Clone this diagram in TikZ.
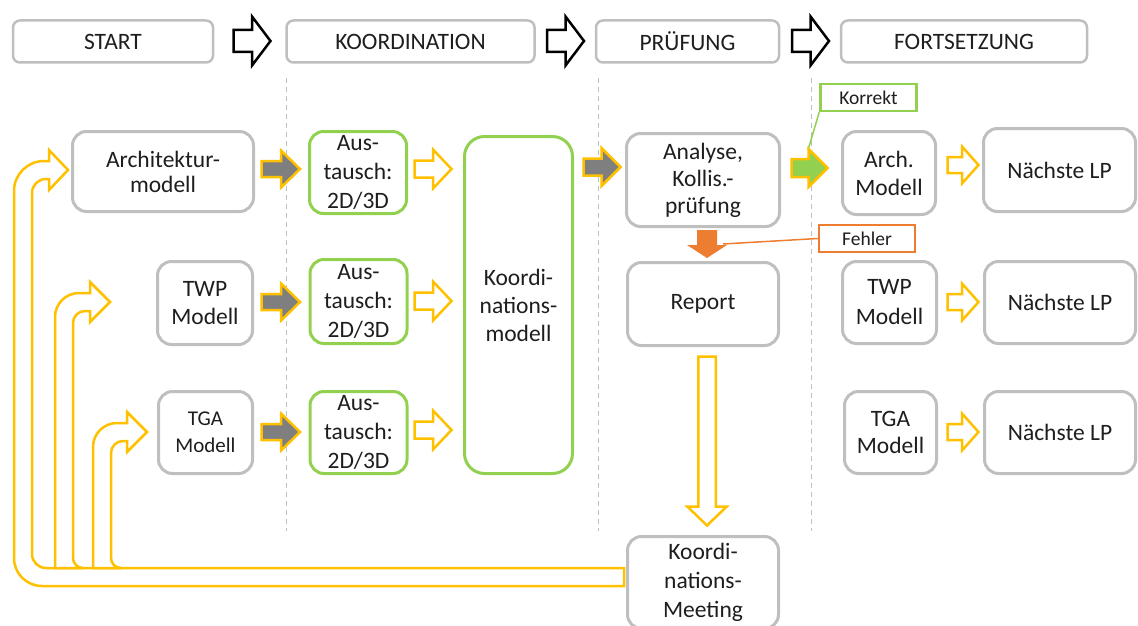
\documentclass[tikz,border=0pt]{standalone}
\usepackage{fontspec}
\setmainfont{Carlito}
\definecolor{boxgray}{HTML}{BFBFBF}
\definecolor{gold}{HTML}{FFC000}
\definecolor{leaf}{HTML}{92D050}
\definecolor{rust}{HTML}{ED7D31}
\definecolor{arrowgray}{HTML}{7F7F7F}
\definecolor{ink}{HTML}{1E1E1E}

\begin{document}
\begin{tikzpicture}[x=1pt,y=-1pt,
  every node/.style={font=\fontsize{23.5}{28}\selectfont, text=ink, inner sep=0pt},
  headbox/.style={draw=boxgray, line width=2.5pt, rounded corners=7pt, fill=white, minimum height=42pt},
  graybox/.style={draw=boxgray, line width=3pt, rounded corners=14pt, fill=white, align=center},
  greenbox/.style={graybox, draw=leaf},
  tagbox/.style={draw=#1, line width=2.5pt, fill=white, font=\fontsize{19.5}{23}\selectfont, minimum width=96pt, minimum height=27pt},
  % block arrow drawn from its tail centre towards +x:
  % {length}{head length}{shaft half width}{head half width}{style}
  pics/barrow/.style n args={5}{code={
    \path[#5] (0,-#3) -- (#1-#2,-#3) -- (#1-#2,-#4) -- (#1,0)
      -- (#1-#2,#4) -- (#1-#2,#3) -- (0,#3) -- cycle;}},
  grayfill/.style={draw=gold, fill=arrowgray, line width=2.5pt, line join=miter},
  hollowfill/.style={draw=gold, fill=white, line width=2.5pt, line join=miter},
  greenfill/.style={draw=gold, fill=leaf, line width=2.5pt, line join=miter},
  stagefill/.style={draw=black, fill=white, line width=2.5pt, line join=miter},
  errfill/.style={fill=rust},
  fb/.style={draw=gold, line width=2.5pt, fill=white},
  sep/.style={draw=boxgray, line width=1pt, dash pattern=on 5pt off 4pt}
]
\useasboundingbox (0,0) rectangle (1138,626);
\clip (0,0) rectangle (1138,626);

% phase separators
\draw[sep] (286,78) -- (286,531);
\draw[sep] (598,78) -- (598,531);
\draw[sep] (811,78) -- (811,531);

% feedback arrows from the coordination meeting back to the models
\draw[fb] (624,568) -- (46,568) arc[start angle=90, end angle=180, radius=14]
  -- (32,193) arc[start angle=180, end angle=270, radius=14]
  -- (49,179) -- (49,190) -- (68,170) -- (49,150) -- (49,161) -- (44,161)
  arc[start angle=270, end angle=180, radius=30]
  -- (14,558) arc[start angle=180, end angle=90, radius=28]
  -- (624,586) -- cycle;
\draw[fb] (55,568) -- (55,317) arc[start angle=180, end angle=270, radius=24]
  -- (90,293) -- (90,282) -- (110,302) -- (90,322) -- (90,311) -- (85,311)
  arc[start angle=270, end angle=180, radius=12]
  -- (73,558) arc[start angle=180, end angle=90, radius=10] -- cycle;
\draw[fb] (93,568) -- (93,447) arc[start angle=180, end angle=270, radius=24]
  -- (127,423) -- (127,412) -- (147,432) -- (127,452) -- (127,441) -- (123,441)
  arc[start angle=270, end angle=180, radius=12]
  -- (111,558) arc[start angle=180, end angle=90, radius=10] -- cycle;

% phase headers
\node[headbox, minimum width=200pt] (hStart) at (113,41.5) {START};
\node[headbox, minimum width=248pt] (hKoord) at (410.5,41.5) {KOORDINATION};
\node[headbox, minimum width=183pt] (hPruef) at (687.5,41.5) {PRÜFUNG};
\node[headbox, minimum width=246pt] (hFort) at (964,41.5) {FORTSETZUNG};
\pic (s1) at (233.5,41) {barrow={37}{18.5}{11}{24.5}{stagefill}};
\pic (s2) at (547,41) {barrow={37}{18.5}{11}{24.5}{stagefill}};
\pic (s3) at (792,41) {barrow={37}{18.5}{11}{24.5}{stagefill}};

% start models
\node[graybox, minimum width=181pt, minimum height=80pt, font=\fontsize{23.5}{25}\selectfont] (arch) at (163,171.5) {Architektur-\\modell};
\node[graybox, minimum width=95pt, minimum height=83pt] (twp) at (205,303) {TWP\\Modell};
\node[graybox, minimum width=94pt, minimum height=82pt, font=\fontsize{21}{27}\selectfont] (tga) at (205.5,432.5) {TGA\\Modell};

% exchange
\node[greenbox, minimum width=97pt, minimum height=82pt, font=\fontsize{23.5}{29}\selectfont] (aus1) at (358,172.5) {Aus-\\tausch:\\2D/3D};
\node[greenbox, minimum width=97pt, minimum height=84pt, font=\fontsize{23.5}{29}\selectfont] (aus2) at (358.5,301.5) {Aus-\\tausch:\\2D/3D};
\node[greenbox, minimum width=97pt, minimum height=82pt, font=\fontsize{23.5}{29}\selectfont] (aus3) at (358.5,432.5) {Aus-\\tausch:\\2D/3D};
\node[greenbox, rounded corners=20pt, minimum width=108pt, minimum height=337pt] (kmod) at (518.5,305) {Koordi-\\nations-\\modell};

% checking
\node[graybox, minimum width=153pt, minimum height=93pt, font=\fontsize{23.5}{27}\selectfont] (analyse) at (703,180) {Analyse,\\Kollis.-\\prüfung};
\node[graybox, minimum width=151pt, minimum height=83pt] (report) at (703,304) {Report};
\node[graybox, minimum width=151pt, minimum height=92pt, font=\fontsize{23.5}{29}\selectfont] (meeting) at (703,582.5) {Koordi-\\nations-\\Meeting};

% continuation
\node[graybox, minimum width=93pt, minimum height=83pt] (archR) at (889,173) {Arch.\\Modell};
\node[graybox, minimum width=94pt, minimum height=82pt, font=\fontsize{23.5}{30}\selectfont] (twpR) at (889.5,302.5) {TWP\\Modell};
\node[graybox, minimum width=92pt, minimum height=82pt, font=\fontsize{23.5}{27}\selectfont] (tgaR) at (890.5,432.5) {TGA\\Modell};
\node[graybox, minimum width=152pt, minimum height=83pt] (next1) at (1059.5,170) {Nächste LP};
\node[graybox, minimum width=151pt, minimum height=82pt] (next2) at (1060,302.5) {Nächste LP};
\node[graybox, minimum width=151pt, minimum height=82pt] (next3) at (1060,432.5) {Nächste LP};

% result labels with leader lines
\node[tagbox=leaf] (korrekt) at (868.5,97.5) {Korrekt};
\node[tagbox=rust] (fehler) at (867,238.5) {Fehler};
\coordinate (kend) at (808,150);
\coordinate (fend) at (723,244);
\draw[leaf, line width=1.5pt] (korrekt.south west) -- (kend);
\draw[rust, line width=1.5pt] (fehler.west) -- (fend);

% flow arrows
\pic (g1) at (261.5,169) {barrow={38.5}{19}{8}{18.5}{grayfill}};
\pic (g2) at (261.5,302) {barrow={38.5}{19}{8}{18.5}{grayfill}};
\pic (g3) at (261.5,432) {barrow={38.5}{19}{8}{18.5}{grayfill}};
\pic (h1) at (414.5,169) {barrow={37}{18.5}{8.5}{19.5}{hollowfill}};
\pic (h2) at (414.5,301) {barrow={37}{18.5}{8.5}{19.5}{hollowfill}};
\pic (h3) at (414.5,430) {barrow={37}{18.5}{8.5}{19.5}{hollowfill}};
\pic (g4) at (583.5,167) {barrow={37}{19}{8.5}{19}{grayfill}};
\pic (ok) at (791.5,168) {barrow={36}{19}{9}{19}{greenfill}};
\pic (r1) at (947.5,165) {barrow={31}{16.5}{8}{18.5}{hollowfill}};
\pic (r2) at (947.5,302) {barrow={31}{16.5}{8}{18.5}{hollowfill}};
\pic (r3) at (947.5,432) {barrow={31}{16.5}{8}{18.5}{hollowfill}};
\pic[rotate=-90] (err) at (707,230) {barrow={28}{13}{10}{20}{errfill}};
\pic[rotate=-90] (down) at (707,356.5) {barrow={169}{19}{8.75}{19.75}{hollowfill}};
\end{tikzpicture}
\end{document}
